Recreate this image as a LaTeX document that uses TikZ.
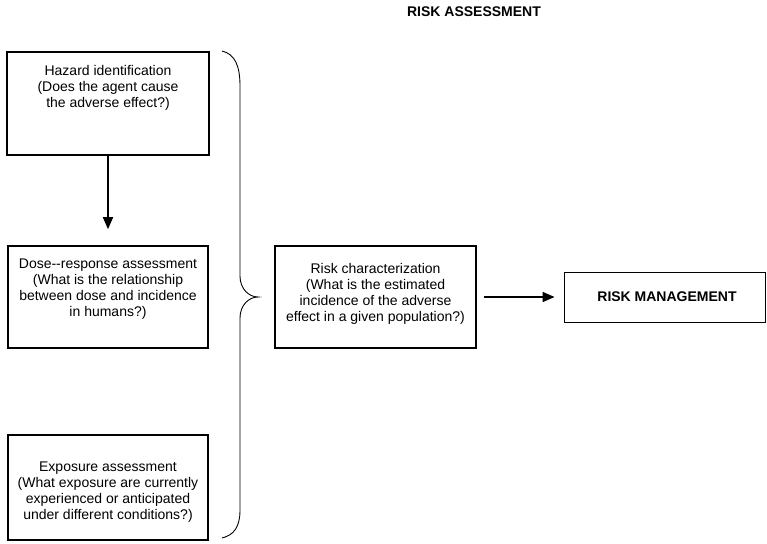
\documentclass[tikz,border=0pt]{standalone}
\usepackage{fontspec}
\setmainfont{Liberation Sans}
\usetikzlibrary{arrows.meta}
\begin{document}
\begin{tikzpicture}[x=1pt,y=-1pt,
  boxstyle/.style={draw, line width=1.6pt, rectangle, inner sep=0pt},
  thinbox/.style={draw, line width=0.9pt, rectangle, inner sep=0pt},
  txt/.style={align=center, inner sep=0pt, font=\fontsize{14}{16}\selectfont},
  arr/.style={line width=1.6pt, -{Triangle[length=12pt,width=10pt]}},
  bracestyle/.style={line width=0.9pt}]
\useasboundingbox (0,0) rectangle (767,543);
% title
\node[txt, font=\fontsize{14}{16}\selectfont\bfseries] (title) at (474,12) {RISK ASSESSMENT};
% boxes
\node[boxstyle, minimum width=202pt, minimum height=103pt] (haz) at (108,103.5) {};
\node[txt] (haztxt) at (108,88) {Hazard identification\\(Does the agent cause\\the adverse effect?)};
\node[boxstyle, minimum width=200pt, minimum height=102pt] (dose) at (108,297) {};
\node[txt] (dosetxt) at (108,289) {Dose-{}-response assessment\\(What is the relationship\\between dose and incidence\\in humans?)};
\node[boxstyle, minimum width=200pt, minimum height=105pt] (expo) at (108,487.5) {};
\node[txt] (expotxt) at (108,492) {Exposure assessment\\(What exposure are currently\\experienced or anticipated\\under different conditions?)};
\node[boxstyle, minimum width=201pt, minimum height=102pt] (risk) at (375.5,297) {};
\node[txt] (risktxt) at (375.5,294) {Risk characterization\\(What is the estimated\\incidence of the adverse\\effect in a given population?)};
\node[thinbox, minimum width=201pt, minimum height=50pt] (mgmt) at (664.5,297.5) {};
\node[txt, font=\fontsize{14}{16}\selectfont\bfseries] (mgmttxt) at (667,297) {RISK MANAGEMENT};
% connectors
\draw[arr, shorten >=16pt] (haz) -- (dose);
\draw[arr, shorten <=7pt, shorten >=9pt] (risk.east) -- (risk.east -| mgmt.west);
% brace
\draw[bracestyle] (222,51) .. controls (235,54) and (240,66) .. (240,86)
  -- (240,276) .. controls (240,289) and (249,297) .. (258,297)
  .. controls (249,297) and (240,305) .. (240,318)
  -- (240,510) .. controls (240,527) and (234,535) .. (222,538);
\end{tikzpicture}
\end{document}
